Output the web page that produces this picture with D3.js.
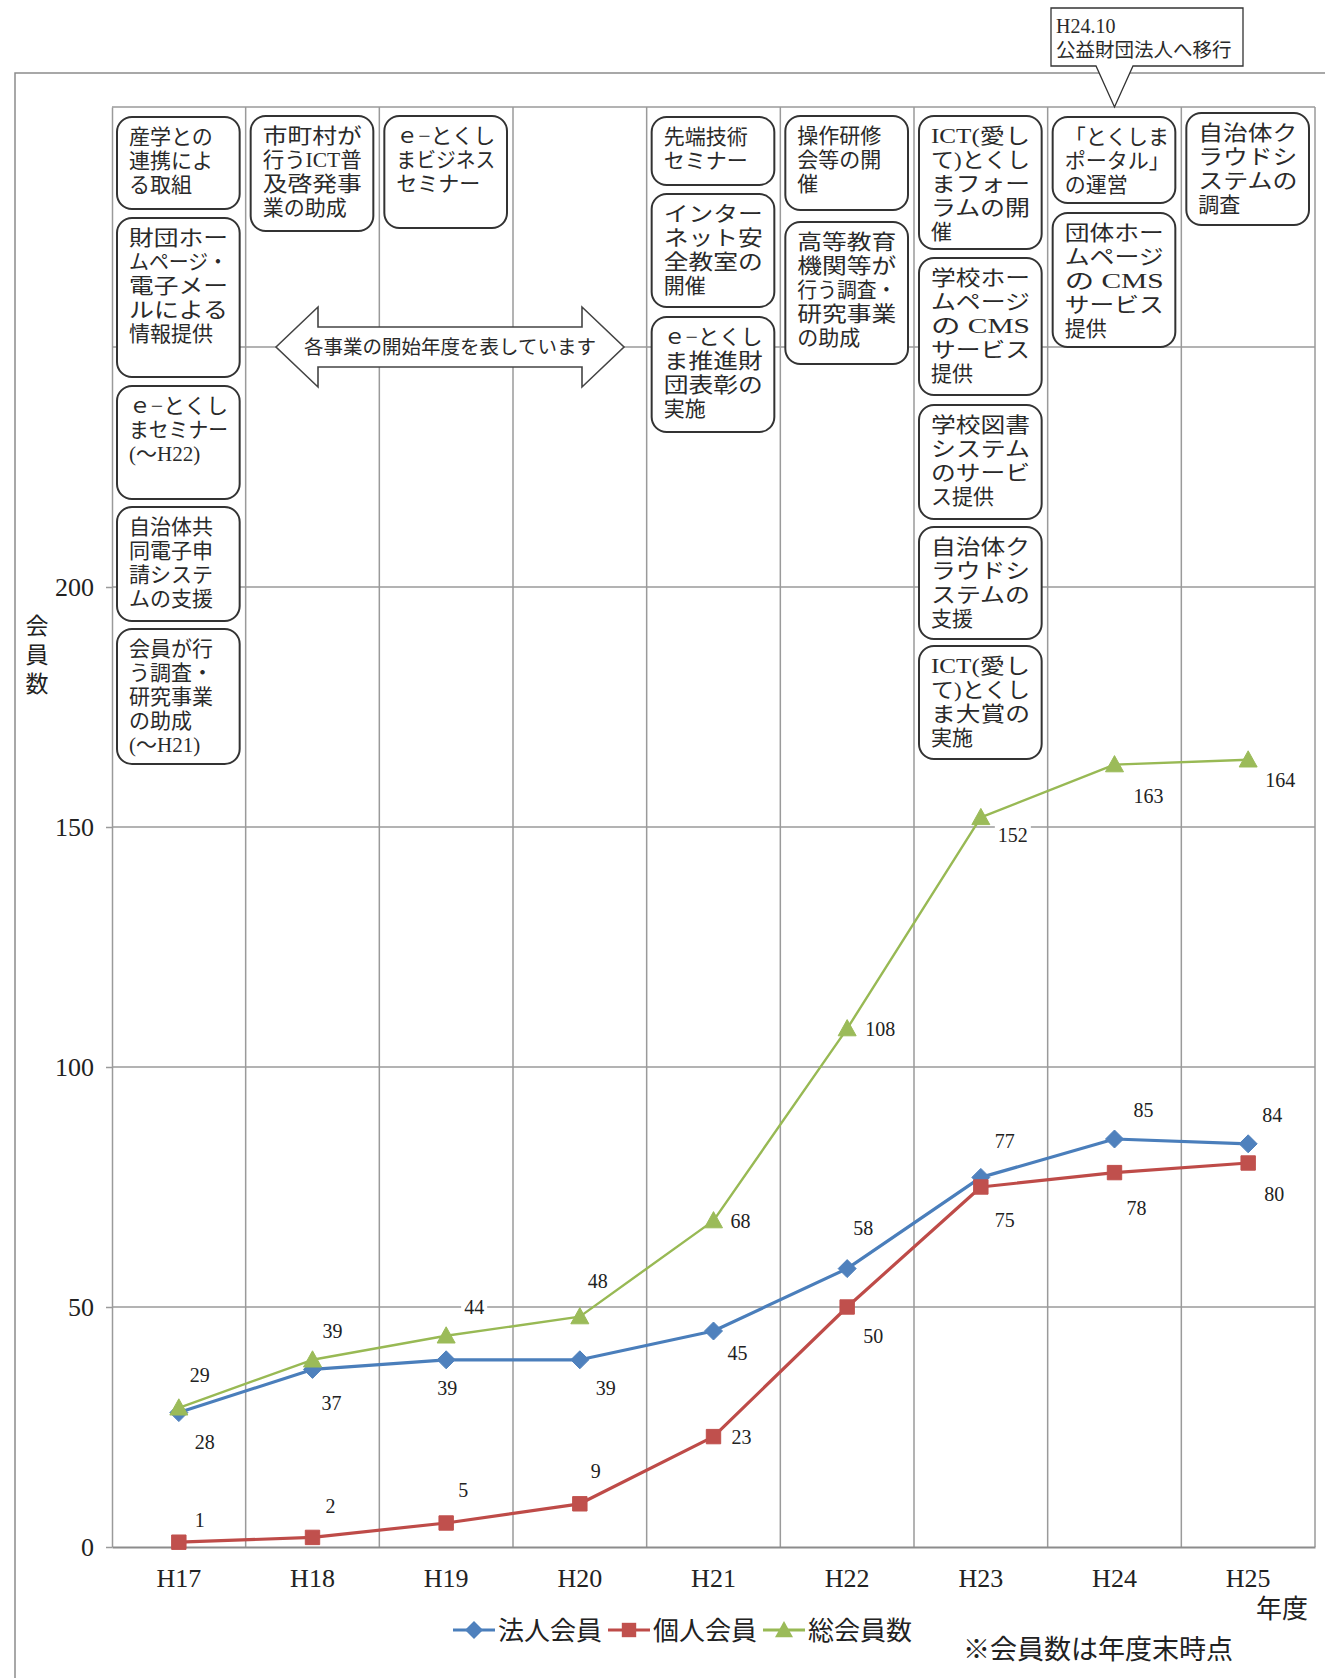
<!DOCTYPE html>
<html lang="ja">
<head>
<meta charset="utf-8">
<script src="https://cdn.jsdelivr.net/npm/d3@7"></script>
<style>
  html, body { margin: 0; padding: 0; background: #fff; }
  svg { display: block; }
</style>
</head>
<body>
<script>
// ---- data -------------------------------------------------------------
const years = ["H17", "H18", "H19", "H20", "H21", "H22", "H23", "H24", "H25"];
const corporate = [28, 37, 39, 39, 45, 58, 77, 85, 84];     // 法人会員
const individual = [1, 2, 5, 9, 23, 50, 75, 78, 80];        // 個人会員
const total = [29, 39, 44, 48, 68, 108, 152, 163, 164];     // 総会員数
const yTickValues = [0, 50, 100, 150, 200];
const gridValues = [50, 100, 150, 200, 250, 300];

// starting year of each programme, and the text shown in its box
const noteYears = ["H17", "H17", "H17", "H17", "H17", "H18", "H19", "H21", "H21", "H21",
                   "H22", "H22", "H23", "H23", "H23", "H23", "H23", "H24", "H24", "H25"];
const noteTexts = [
  ["産学との", "連携によ", "る取組"],
  ["財団ホー", "ムページ・", "電子メー", "ルによる", "情報提供"],
  ["ｅ−とくし", "まセミナー", "(〜H22)"],
  ["自治体共", "同電子申", "請システ", "ムの支援"],
  ["会員が行", "う調査・", "研究事業", "の助成", "(〜H21)"],
  ["市町村が", "行うICT普", "及啓発事", "業の助成"],
  ["ｅ−とくし", "まビジネス", "セミナー"],
  ["先端技術", "セミナー"],
  ["インター", "ネット安", "全教室の", "開催"],
  ["ｅ−とくし", "ま推進財", "団表彰の", "実施"],
  ["操作研修", "会等の開", "催"],
  ["高等教育", "機関等が", "行う調査・", "研究事業", "の助成"],
  ["ICT(愛し", "て)とくし", "まフォー", "ラムの開", "催"],
  ["学校ホー", "ムページ", "の CMS", "サービス", "提供"],
  ["学校図書", "システム", "のサービ", "ス提供"],
  ["自治体ク", "ラウドシ", "ステムの", "支援"],
  ["ICT(愛し", "て)とくし", "ま大賞の", "実施"],
  ["「とくしま", "ポータル」", "の運営"],
  ["団体ホー", "ムページ", "の CMS", "サービス", "提供"],
  ["自治体ク", "ラウドシ", "ステムの", "調査"]
];

// ---- layout -----------------------------------------------------------
const W = 1325, H = 1678;
const M = { left: 112, right: 1315, top: 107, bottom: 1547 };
const SERIF = "'Liberation Serif', 'Noto Sans CJK JP', serif";
const JP = "'Liberation Serif', 'Noto Sans CJK JP', sans-serif";
const GRID = "#9a9a9a";

// vertical extent of each programme box and whether its lines are justified
const noteTop =    [117, 218, 386, 507, 629, 116, 116, 117, 194, 317, 116, 222, 116, 258, 405, 527, 646, 117, 213, 113];
const noteBottom = [209, 377, 499, 621, 764, 231, 228, 185, 307, 432, 210, 364, 249, 395, 519, 639, 759, 203, 347, 225];
const noteJustify = [0, 1, 1, 0, 0, 1, 1, 0, 1, 1, 0, 1, 1, 1, 1, 1, 1, 0, 1, 1];

// data-label placement relative to each point [dx, dy]
const corporateLabelOff = [[26, 29], [19, 34], [1, 28], [26, 28], [24, 22], [16, -41], [24, -36], [29, -29], [24, -29]];
const individualLabelOff = [[21, -22], [18, -31], [17, -33], [16, -33], [28, 0], [26, 29], [24, 33], [22, 35], [26, 31]];
const totalLabelOff = [[21, -33], [20, -29], [28, -29], [18, -36], [27, 0], [33, 0], [32, 18], [34, 31], [32, 20]];

const series = [
  { name: "法人会員", values: corporate, line: "#4A7EBB", fill: "#4F81BD", marker: "diamond", width: 3.2, off: corporateLabelOff },
  { name: "個人会員", values: individual, line: "#BE4B48", fill: "#C0504D", marker: "square", width: 3.2, off: individualLabelOff },
  { name: "総会員数", values: total, line: "#98B954", fill: "#9BBB59", marker: "triangle", width: 2.4, off: totalLabelOff }
];

// ---- scales -----------------------------------------------------------
const x = d3.scaleBand().domain(years).range([M.left, M.right]);
const cx = d => x(d) + x.bandwidth() / 2;
const y = d3.scaleLinear().domain([0, 300]).range([M.bottom, M.top]);

const svg = d3.select("body").append("svg")
  .attr("width", W).attr("height", H)
  .attr("viewBox", `0 0 ${W} ${H}`);

svg.append("rect").attr("width", W).attr("height", H).attr("fill", "#fff");

// outer frame (left and top edges)
svg.append("path")
  .attr("d", `M15,${H}V73H${W}`)
  .attr("fill", "none").attr("stroke", "#8c8c8c").attr("stroke-width", 1.5);

// plot background
svg.append("rect")
  .attr("x", M.left).attr("y", M.top)
  .attr("width", M.right - M.left).attr("height", M.bottom - M.top)
  .attr("fill", "#fff");

// ---- gridlines ---------------------------------------------------------
const grid = svg.append("g").attr("stroke", GRID).attr("stroke-width", 1.5);
grid.selectAll("line.h").data(gridValues).join("line")
  .attr("class", "h")
  .attr("x1", M.left).attr("x2", M.right)
  .attr("y1", d => y(d)).attr("y2", d => y(d));
grid.selectAll("line.v").data(years.slice(1).concat(["__end"])).join("line")
  .attr("class", "v")
  .attr("x1", d => d === "__end" ? M.right : x(d))
  .attr("x2", d => d === "__end" ? M.right : x(d))
  .attr("y1", M.top).attr("y2", M.bottom);

// ---- axes ---------------------------------------------------------------
const yAxis = svg.append("g")
  .attr("transform", `translate(${M.left},0)`)
  .call(d3.axisLeft(y).tickValues(yTickValues).tickSize(6).tickSizeOuter(0).tickPadding(12));
yAxis.select(".domain").attr("stroke", GRID).attr("stroke-width", 1.5);
yAxis.selectAll(".tick line").attr("stroke", GRID).attr("stroke-width", 1.5);
yAxis.selectAll(".tick text")
  .attr("font-family", SERIF).attr("font-size", 26).attr("fill", "#222");

const xAxis = svg.append("g")
  .attr("transform", `translate(0,${M.bottom})`)
  .call(d3.axisBottom(x).tickSize(0).tickSizeOuter(0).tickPadding(22));
xAxis.select(".domain").attr("stroke", "#8c8c8c").attr("stroke-width", 2);
xAxis.selectAll(".tick text")
  .attr("font-family", SERIF).attr("font-size", 26).attr("fill", "#222");

// axis titles
const yTitle = svg.append("text")
  .attr("font-family", JP).attr("font-size", 23).attr("fill", "#222")
  .attr("text-anchor", "middle");
["会", "員", "数"].forEach((c, i) => {
  yTitle.append("tspan").attr("x", 37).attr("y", 634 + i * 29).text(c);
});
svg.append("text")
  .attr("x", 1308).attr("y", 1618)
  .attr("text-anchor", "end")
  .attr("font-family", JP).attr("font-size", 26).attr("fill", "#222")
  .text("年度");

// ---- programme boxes ---------------------------------------------------
const boxInset = 5, boxW = x.bandwidth() - 11;
const notes = svg.append("g");
noteTexts.forEach((lines, i) => {
  const bx = x(noteYears[i]) + boxInset;
  const top = noteTop[i], bottom = noteBottom[i];
  const g = notes.append("g");
  g.append("rect")
    .attr("x", bx).attr("y", top)
    .attr("width", boxW).attr("height", bottom - top)
    .attr("rx", 15).attr("ry", 15)
    .attr("fill", "#fff").attr("stroke", "#333").attr("stroke-width", 2);
  lines.forEach((t, j) => {
    const tx = g.append("text")
      .attr("x", bx + 12).attr("y", top + 27 + j * 24)
      .attr("font-family", JP).attr("font-size", 21).attr("fill", "#2a2a2a")
      .text(t);
    if (noteJustify[i] && j < lines.length - 1) {
      tx.attr("textLength", 99).attr("lengthAdjust", "spacingAndGlyphs");
    }
  });
});

// double-headed arrow explaining the boxes
const arrow = { left: 276, right: 624, cy: y(250), head: 42, halfHead: 40, halfShaft: 20 };
{
  const a = arrow;
  const p = [
    [a.left, a.cy],
    [a.left + a.head, a.cy - a.halfHead],
    [a.left + a.head, a.cy - a.halfShaft],
    [a.right - a.head, a.cy - a.halfShaft],
    [a.right - a.head, a.cy - a.halfHead],
    [a.right, a.cy],
    [a.right - a.head, a.cy + a.halfHead],
    [a.right - a.head, a.cy + a.halfShaft],
    [a.left + a.head, a.cy + a.halfShaft],
    [a.left + a.head, a.cy + a.halfHead]
  ];
  svg.append("path")
    .attr("d", d3.line()(p) + "Z")
    .attr("fill", "#fff").attr("stroke", "#444").attr("stroke-width", 1.6)
    .attr("stroke-linejoin", "miter");
  svg.append("text")
    .attr("x", (a.left + a.right) / 2).attr("y", a.cy + 7)
    .attr("text-anchor", "middle")
    .attr("font-family", JP).attr("font-size", 19.5).attr("fill", "#2a2a2a")
    .text("各事業の開始年度を表しています");
}

// callout above H24
{
  const c = { x0: 1051, x1: 1243, y0: 8, y1: 66, tipX: cx("H24"), baseL: 1096, baseR: 1133 };
  svg.append("path")
    .attr("d", `M${c.x0},${c.y0}H${c.x1}V${c.y1}H${c.baseR}L${c.tipX},${M.top}L${c.baseL},${c.y1}H${c.x0}Z`)
    .attr("fill", "#fff").attr("stroke", "#333").attr("stroke-width", 1.3);
  svg.append("text").attr("x", c.x0 + 5).attr("y", 33)
    .attr("font-family", SERIF).attr("font-size", 20).attr("fill", "#2a2a2a")
    .text("H24.10");
  svg.append("text").attr("x", c.x0 + 5).attr("y", 57)
    .attr("font-family", JP).attr("font-size", 19.5).attr("fill", "#2a2a2a")
    .text("公益財団法人へ移行");
}

// ---- series -------------------------------------------------------------
function markerPath(type, s) {
  if (type === "diamond") return `M0,${-s}L${s},0L0,${s}L${-s},0Z`;
  if (type === "square") { const h = s * 0.8; return `M${-h},${-h}H${h}V${h}H${-h}Z`; }
  return `M0,${-s}L${s},${s * 0.8}L${-s},${s * 0.8}Z`;
}

const labelBg = svg.append("g");
const lineLayer = svg.append("g");
const markerLayer = svg.append("g");
const labelLayer = svg.append("g");

const lineGen = d3.line().x((d, i) => cx(years[i])).y(d => y(d));

series.forEach(s => {
  lineLayer.append("path")
    .datum(s.values)
    .attr("d", lineGen)
    .attr("fill", "none").attr("stroke", s.line)
    .attr("stroke-width", s.width).attr("stroke-linejoin", "round");

  markerLayer.selectAll(null).data(s.values).join("path")
    .attr("transform", (d, i) => `translate(${cx(years[i])},${y(d)})`)
    .attr("d", markerPath(s.marker, 9))
    .attr("fill", s.fill).attr("stroke", s.fill).attr("stroke-width", 1);

  s.values.forEach((v, i) => {
    const t = labelLayer.append("text")
      .attr("x", cx(years[i]) + s.off[i][0])
      .attr("y", y(v) + s.off[i][1])
      .attr("text-anchor", "middle").attr("dominant-baseline", "central")
      .attr("font-family", SERIF).attr("font-size", 20).attr("fill", "#222")
      .text(v);
    const b = t.node().getBBox();
    labelBg.append("rect")
      .attr("x", b.x - 3).attr("y", b.y).attr("width", b.width + 6).attr("height", b.height)
      .attr("fill", "#fff");
  });
});

// ---- legend ---------------------------------------------------------------
const legendX = [453, 608, 763];
const legendY = 1630;
series.forEach((s, i) => {
  const g = svg.append("g").attr("transform", `translate(${legendX[i]},${legendY})`);
  g.append("line").attr("x1", 0).attr("x2", 42).attr("y1", 0).attr("y2", 0)
    .attr("stroke", s.line).attr("stroke-width", 3.2);
  g.append("path").attr("transform", "translate(21,0)")
    .attr("d", markerPath(s.marker, 9)).attr("fill", s.fill);
  g.append("text").attr("x", 45).attr("y", 10)
    .attr("font-family", JP).attr("font-size", 26).attr("fill", "#222")
    .text(s.name);
});

svg.append("text")
  .attr("x", 963).attr("y", 1659)
  .attr("font-family", JP).attr("font-size", 27).attr("fill", "#222")
  .text("※会員数は年度末時点");
</script>
</body>
</html>
